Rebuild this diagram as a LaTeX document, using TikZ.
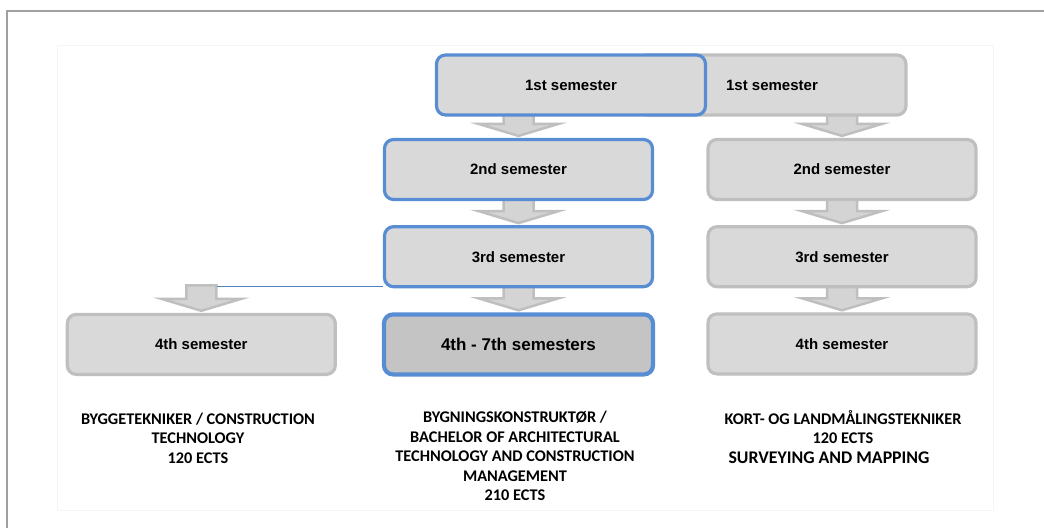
\documentclass[tikz,border=0pt]{standalone}
\usepackage{fontspec}
\usepackage{tikz}
\usetikzlibrary{positioning,calc,backgrounds}
\newfontfamily\boxfont{Liberation Sans}
\newfontfamily\capfont{Carlito}
\definecolor{semblue}{RGB}{88,141,212}
\definecolor{linkblue}{RGB}{79,129,189}
\definecolor{semfill}{RGB}{217,217,217}
\definecolor{semdark}{RGB}{196,196,196}
\definecolor{semedge}{RGB}{191,191,191}
\definecolor{arrfill}{RGB}{212,212,212}
\definecolor{framegray}{RGB}{160,160,160}

\newcommand{\semarrow}[2]{%
  \begin{pgfonlayer}{background}
  \draw[blk] let \p1=(#1.south -| #2.north), \p2=(#2.north) in
    (\x1-15pt,\y1+3pt) -- (\x1+15pt,\y1+3pt) -- (\x1+15pt,\y2+14pt) -- (\x1+40pt,\y2+14pt)
    -- (\x1,\y2+2pt) -- (\x1-40pt,\y2+14pt) -- (\x1-15pt,\y2+14pt) -- cycle;
  \end{pgfonlayer}}

\begin{document}
\begin{tikzpicture}[x=1pt,y=1pt,node distance=24pt,
    sem/.style={rounded corners=9pt,fill=semfill,minimum width=268pt,minimum height=60pt,font=\boxfont\bfseries\fontsize{15}{18}\selectfont},
    semgray/.style={sem,draw=semedge,line width=3.2pt},
    semblu/.style={sem,draw=semblue,line width=3.2pt},
    blk/.style={fill=arrfill,draw=semedge,line width=2.5pt,line join=miter},
    prog/.style={align=center,font=\capfont\bfseries\fontsize{16.3}{19.5}\selectfont}]
  \useasboundingbox (0,0) rectangle (1044,-528);
  \draw[framegray,line width=2pt] (1044,-11) -- (7,-11) -- (7,-528);
  \draw[black!4] (57,-45) rectangle (993,-510);
  % left column
  \node[semgray,minimum width=268pt] (g1) at (772,-85) {1st semester};
  \node[semblu,minimum width=269pt] (m1) at (571,-85) {1st semester};
  \node[semblu] (m2) at (518.5,-169.5) {2nd semester};
  \node[semblu,below=of m2] (m3) {3rd semester};
  \node[semblu,below=of m3,fill=semdark,minimum width=269pt,line width=4.2pt,font=\boxfont\bfseries\fontsize{17}{20}\selectfont] (m4) {4th - 7th semesters};
  \node[semgray,left=45pt of m4] (l4) {4th semester};
  % right column
  \node[semgray] (r2) at (842,-169.5) {2nd semester};
  \node[semgray,below=of r2] (r3) {3rd semester};
  \node[semgray,below=of r3] (r4) {4th semester};
  \semarrow{m1}{m2}
  \semarrow{m2}{m3}
  \semarrow{m3}{m4}
  \semarrow{g1}{r2}
  \semarrow{r2}{r3}
  \semarrow{r3}{r4}
  \semarrow{m3}{l4}
  \draw[linkblue,line width=1.2pt] ([yshift=1.5pt]m3.south west) -- ($(l4.north |- m3.south west)+(16,1.5)$);
  % programme names
  \node[prog] (pl) at (198,-438) {BYGGETEKNIKER / CONSTRUCTION\\TECHNOLOGY\\120 ECTS};
  \node[prog] (pm) at (515,-456) {BYGNINGSKONSTRUKTØR /\\BACHELOR OF ARCHITECTURAL\\TECHNOLOGY AND CONSTRUCTION\\MANAGEMENT\\210 ECTS};
  \node[prog] (pr) at (843,-427) {KORT- OG LANDMÅLINGSTEKNIKER\\120 ECTS};
  \node[prog,anchor=west,font=\capfont\bfseries\fontsize{17.8}{20}\selectfont] (ps) at (725,-458) {SURVEYING AND MAPPING};
\end{tikzpicture}
\end{document}
